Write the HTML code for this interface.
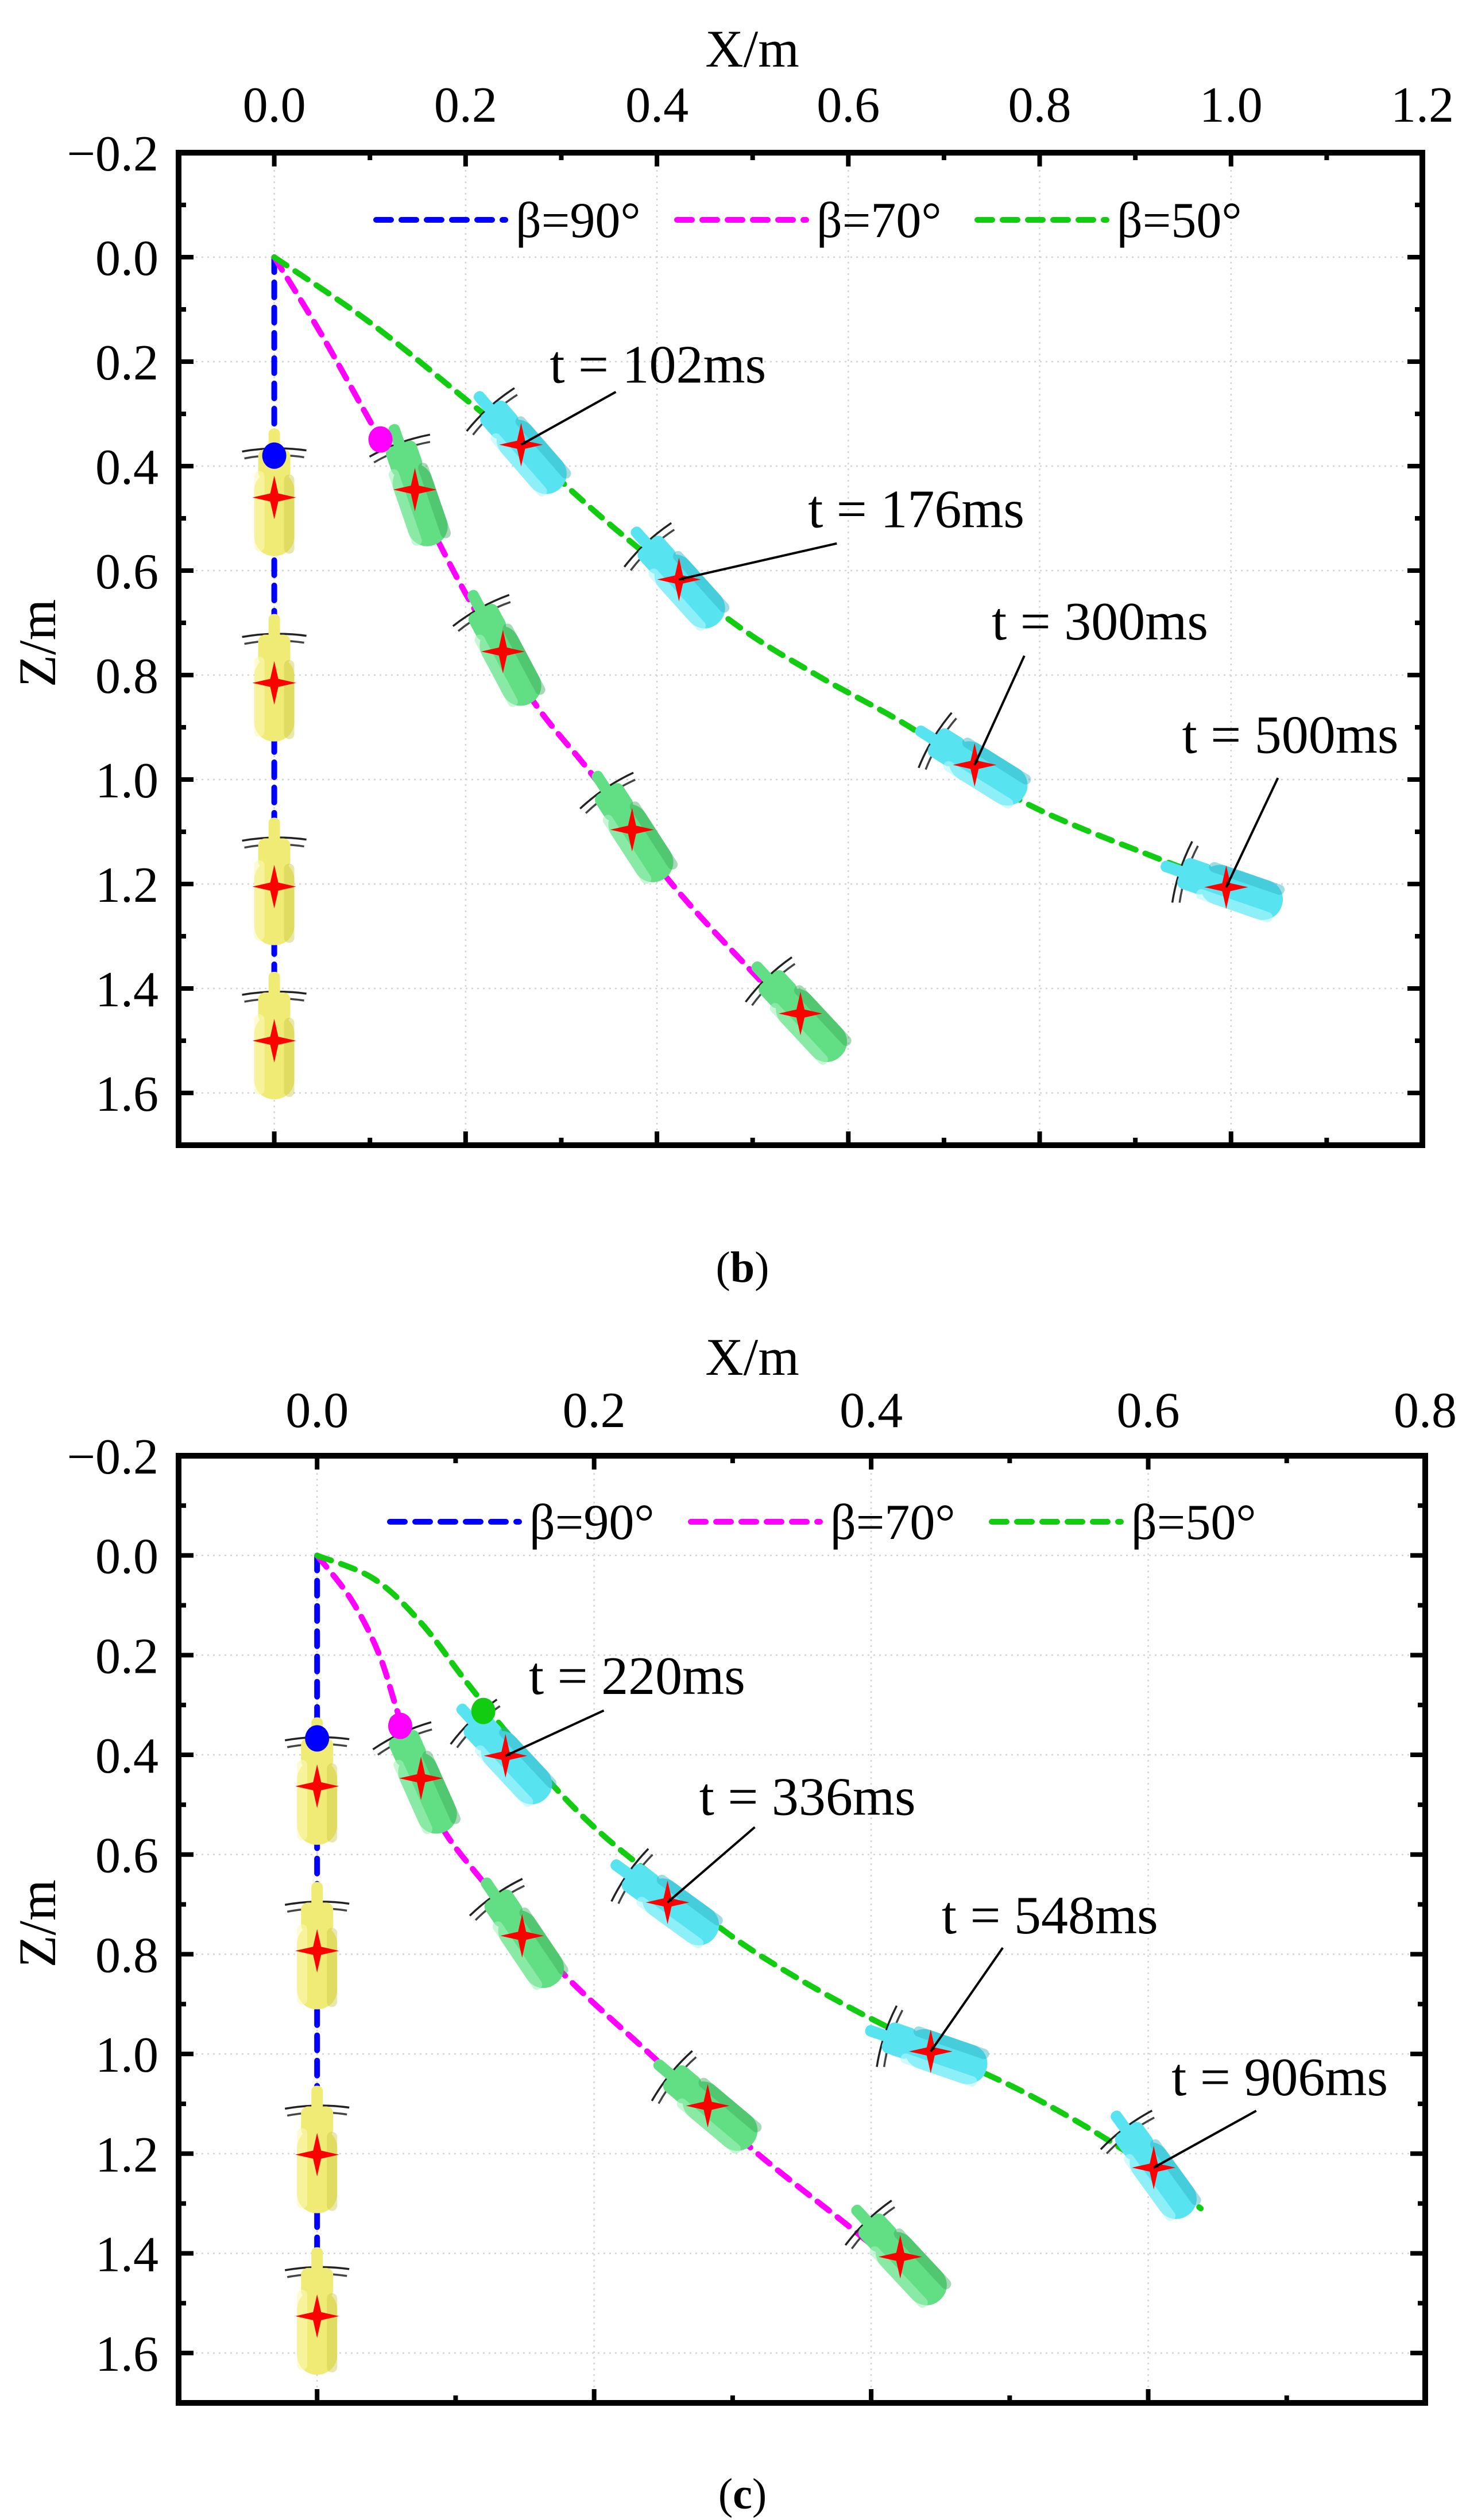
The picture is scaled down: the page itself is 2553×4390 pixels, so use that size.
<!DOCTYPE html>
<html>
<head>
<meta charset="utf-8">
<style>
  html, body { margin:0; padding:0; background:#fff; }
  svg { display:block; }
  text { font-family: "Liberation Serif", serif; fill:#000; }
</style>
</head>
<body>
<svg id="fig" xmlns="http://www.w3.org/2000/svg" width="2553" height="4390" viewBox="0 0 2553 4390">
  <rect x="0" y="0" width="2553" height="4390" fill="#fff"/>
  <defs>
    <marker id="arrowHead" markerWidth="10" markerHeight="8" refX="9" refY="4" orient="auto" markerUnits="userSpaceOnUse" viewBox="0 0 10 8">
      <path d="M0,0 L10,4 L0,8 L3,4 Z" fill="#000"/>
    </marker>
  </defs>
</svg>
<script>
// ---------------- Panel (b) data ----------------
const bXTicks = [0.0, 0.2, 0.4, 0.6, 0.8, 1.0, 1.2];
const bXTickLabels = ["0.0", "0.2", "0.4", "0.6", "0.8", "1.0", "1.2"];
const bZTicks = [-0.2, 0.0, 0.2, 0.4, 0.6, 0.8, 1.0, 1.2, 1.4, 1.6];
const bZTickLabels = ["\u22120.2", "0.0", "0.2", "0.4", "0.6", "0.8", "1.0", "1.2", "1.4", "1.6"];
const b90X = [0, 0];
const b90Z = [0, 1.6];
const b70X = [0, 0.05, 0.111, 0.142, 0.205, 0.273, 0.335, 0.413, 0.504, 0.557];
const b70Z = [0, 0.15, 0.349, 0.44, 0.66, 0.856, 0.997, 1.194, 1.377, 1.476];
const b50X = [0, 0.1, 0.2, 0.258, 0.355, 0.48, 0.567, 0.664, 0.78, 0.925, 1.05];
const b50Z = [0, 0.125, 0.272, 0.36, 0.518, 0.70, 0.80, 0.899, 1.04, 1.152, 1.236];
const bDotX = [0, 0.111];
const bDotZ = [0.38, 0.349];
const bDotColor = ["#0000ff", "#ff00ff"];
const bYellowZ = [0.46, 0.815, 1.205, 1.5];
const bGreenX = [0.147, 0.239, 0.374, 0.55];
const bGreenZ = [0.445, 0.755, 1.096, 1.448];
const bGreenTilt = [19, 28, 33, 43];
const bCyanX = [0.258, 0.423, 0.732, 0.995];
const bCyanZ = [0.359, 0.617, 0.972, 1.206];
const bCyanTilt = [41, 42, 58, 71];
const bLabels = ["t = 102ms", "t = 176ms", "t = 300ms", "t = 500ms"];
const bLabelX = [0.401, 0.671, 0.863, 1.062];
const bLabelZ = [0.24, 0.517, 0.732, 0.949];
const bArrowFromX = [0.357, 0.588, 0.784, 1.049];
const bArrowFromZ = [0.258, 0.548, 0.763, 0.997];

// ---------------- Panel (c) data ----------------
const cXTicks = [0.0, 0.2, 0.4, 0.6, 0.8];
const cXTickLabels = ["0.0", "0.2", "0.4", "0.6", "0.8"];
const cZTicks = [-0.2, 0.0, 0.2, 0.4, 0.6, 0.8, 1.0, 1.2, 1.4, 1.6];
const cZTickLabels = ["\u22120.2", "0.0", "0.2", "0.4", "0.6", "0.8", "1.0", "1.2", "1.4", "1.6"];
const c90X = [0, 0];
const c90Z = [0, 1.55];
const c70X = [0, 0.025, 0.045, 0.06, 0.085, 0.12, 0.177, 0.245, 0.313, 0.38, 0.407];
const c70Z = [0, 0.09, 0.2, 0.33, 0.52, 0.655, 0.837, 1.012, 1.188, 1.337, 1.398];
const c50X = [0, 0.041, 0.075, 0.109, 0.15, 0.2, 0.26, 0.313, 0.38, 0.448, 0.516, 0.584, 0.638];
const c50Z = [0, 0.047, 0.135, 0.258, 0.398, 0.545, 0.68, 0.79, 0.9, 0.995, 1.085, 1.196, 1.31];
const cDotX = [0, 0.06, 0.12];
const cDotZ = [0.367, 0.342, 0.312];
const cDotColor = ["#0000ff", "#ff00ff", "#11cc11"];
const cYellowZ = [0.463, 0.793, 1.202, 1.526];
const cGreenX = [0.075, 0.148, 0.282, 0.421];
const cGreenZ = [0.447, 0.763, 1.104, 1.407];
const cGreenTilt = [24, 34, 50, 43];
const cCyanX = [0.136, 0.253, 0.443, 0.604];
const cCyanZ = [0.402, 0.696, 0.995, 1.228];
const cCyanTilt = [43, 54, 71, 36];
const cLabels = ["t = 220ms", "t = 336ms", "t = 548ms", "t = 906ms"];
const cLabelX = [0.231, 0.354, 0.529, 0.695];
const cLabelZ = [0.278, 0.52, 0.758, 1.083];
const cArrowFromX = [0.207, 0.316, 0.495, 0.678];
const cArrowFromZ = [0.311, 0.545, 0.787, 1.114];

const legendNames = ["\u03b2=90\u00b0", "\u03b2=70\u00b0", "\u03b2=50\u00b0"];
const legendColors = ["#0000ff", "#ff00ff", "#11cc11"];

const NS = "http://www.w3.org/2000/svg";
const svg = document.getElementById("fig");
function mk(tag, attrs, parent) {
  const e = document.createElementNS(NS, tag);
  for (const k in attrs) e.setAttribute(k, attrs[k]);
  (parent || svg).appendChild(e);
  return e;
}

function smoothPath(pts) {
  if (pts.length < 3) return pts.map((p, i) => (i ? "L" : "M") + p[0].toFixed(1) + "," + p[1].toFixed(1)).join(" ");
  let d = "M" + pts[0][0].toFixed(1) + "," + pts[0][1].toFixed(1);
  for (let i = 0; i < pts.length - 1; i++) {
    const p0 = pts[Math.max(0, i - 1)], p1 = pts[i], p2 = pts[i + 1], p3 = pts[Math.min(pts.length - 1, i + 2)];
    const c1 = [p1[0] + (p2[0] - p0[0]) / 6, p1[1] + (p2[1] - p0[1]) / 6];
    const c2 = [p2[0] - (p3[0] - p1[0]) / 6, p2[1] - (p3[1] - p1[1]) / 6];
    d += " C" + c1[0].toFixed(1) + "," + c1[1].toFixed(1) + " " + c2[0].toFixed(1) + "," + c2[1].toFixed(1) + " " + p2[0].toFixed(1) + "," + p2[1].toFixed(1);
  }
  return d;
}

function drawBody(g, cx, cy, tilt, kind) {
  const fills = { yellow: ["#fcf9b4", "#efeb74", "#cfc94c"], green: ["#a4f2ba", "#62de84", "#3faa5e"], cyan: ["#b0f6fc", "#58e3f1", "#2fb2c4"] };
  const f = fills[kind];
  const grp = mk("g", { transform: "translate(" + cx + "," + cy + ") rotate(" + (-tilt) + ")" }, g);
  
  
  mk("path", { d: "M-56,-80 Q0,-90 56,-82", fill: "none", stroke: "#222", "stroke-width": 3.5 }, grp);
  mk("path", { d: "M-52,-68 Q0,-78 52,-70", fill: "none", stroke: "#444", "stroke-width": 3.5 }, grp);
  mk("rect", { x: -10, y: -120, width: 20, height: 44, rx: 9, fill: f[1] }, grp);
  mk("rect", { x: -28, y: -84, width: 56, height: 52, rx: 12, fill: f[1] }, grp);
  mk("rect", { x: -35, y: -46, width: 70, height: 148, rx: 34, fill: f[1] }, grp);
  mk("rect", { x: -35, y: -46, width: 18, height: 140, rx: 9, fill: f[0], opacity: 0.6 }, grp);
  mk("rect", { x: 17, y: -40, width: 18, height: 138, rx: 9, fill: f[2], opacity: 0.45 }, grp);
}

function drawStar(g, cx, cy) {
  const R = 38, r = 7;
  const p = [[0, -R], [r, -r], [R, 0], [r, r], [0, R], [-r, r], [-R, 0], [-r, -r]];
  const s = mk("polygon", { points: p.map(q => (cx + q[0]) + "," + (cy + q[1])).join(" "), fill: "#ff0000" }, g);
  
  
}

function drawPanel(P) {
  const g = mk("g", {});
  
  
  const sx = v => P.L + (v - P.xMin) / (P.xMax - P.xMin) * (P.R - P.L);
  const sz = v => P.T + (v - P.zMin) / (P.zMax - P.zMin) * (P.B - P.T);

  const grid = mk("g", {}, g);
  
  
  P.xTicks.forEach(v => mk("line", { x1: sx(v), x2: sx(v), y1: P.T, y2: P.B, stroke: "#d4d4d4", "stroke-width": 2.5, "stroke-dasharray": "3 7" }, grid));
  P.zTicks.forEach(v => mk("line", { x1: P.L, x2: P.R, y1: sz(v), y2: sz(v), stroke: "#d4d4d4", "stroke-width": 2.5, "stroke-dasharray": "3 7" }, grid));

  const series = [[P.l90x, P.l90z, "#0000ff", "beta-90-line"], [P.l70x, P.l70z, "#ff00ff", "beta-70-line"], [P.l50x, P.l50z, "#11cc11", "beta-50-line"]];
  series.forEach(s => {
    const pts = s[0].map((x, i) => [sx(x), sz(s[1][i])]);
    const pth = mk("path", { d: smoothPath(pts), fill: "none", stroke: s[2], "stroke-width": 10, "stroke-dasharray": "26 18", "stroke-linecap": "round", "stroke-linejoin": "round" }, g);
    
    
  });

  P.yz.forEach(z => drawBody(g, sx(0), sz(z), 0, "yellow"));
  P.gx.forEach((x, i) => drawBody(g, sx(x), sz(P.gz[i]), P.gt[i], "green"));
  P.cx.forEach((x, i) => drawBody(g, sx(x), sz(P.cz[i]), P.ct[i], "cyan"));
  P.yz.forEach(z => drawStar(g, sx(0), sz(z)));
  P.gx.forEach((x, i) => drawStar(g, sx(x), sz(P.gz[i])));
  P.cx.forEach((x, i) => drawStar(g, sx(x), sz(P.cz[i])));

  P.dx.forEach((x, i) => {
    const c = mk("ellipse", { cx: sx(x), cy: sz(P.dz[i]), rx: 21, ry: 23, fill: P.dc[i] }, g);
    
    
  });

  P.labels.forEach((t, i) => {
    const a = mk("line", { x1: sx(P.afx[i]), y1: sz(P.afz[i]), x2: sx(P.cx[i]), y2: sz(P.cz[i]), stroke: "#000", "stroke-width": 4, "marker-end": "url(#arrowHead)" }, g);
    
    
    const tx = mk("text", { x: sx(P.lx[i]), y: sz(P.lz[i]), "font-size": 94, "text-anchor": "middle" }, g);
    tx.textContent = t;
    
    
  });

  const lg = mk("g", {}, g);
  
  
  legendNames.forEach((n, i) => {
    const x0 = P.legX[i];
    const le = mk("g", {}, lg);
    
    
    mk("line", { x1: x0, x2: x0 + 225, y1: P.legY, y2: P.legY, stroke: legendColors[i], "stroke-width": 10, "stroke-dasharray": "26 18", "stroke-linecap": "round" }, le);
    const t = mk("text", { x: x0 + 243, y: P.legY + 30, "font-size": 88 }, le);
    t.textContent = n;
  });

  const fr = mk("rect", { x: P.L, y: P.T, width: P.R - P.L, height: P.B - P.T, fill: "none", stroke: "#000", "stroke-width": 10 }, g);
  
  

  const tk = mk("g", { stroke: "#000", "stroke-width": 8 }, g);
  
  
  for (let v = P.xMin; v <= P.xMax + 1e-9; v += 0.1) {
    const major = P.xTicks.some(t => Math.abs(t - v) < 1e-6);
    const len = major ? 24 : 13;
    mk("line", { x1: sx(v), x2: sx(v), y1: P.T, y2: P.T + len }, tk);
    mk("line", { x1: sx(v), x2: sx(v), y1: P.B, y2: P.B - len }, tk);
  }
  for (let v = P.zMin; v <= P.zMax + 1e-9; v += 0.1) {
    const major = P.zTicks.some(t => Math.abs(t - v) < 1e-6);
    const len = major ? 26 : 13;
    mk("line", { x1: P.L, x2: P.L + len, y1: sz(v), y2: sz(v) }, tk);
    mk("line", { x1: P.R, x2: P.R - len, y1: sz(v), y2: sz(v) }, tk);
  }

  P.xTicks.forEach((v, i) => {
    const t = mk("text", { x: sx(v), y: P.xLabY, "font-size": 88, "text-anchor": "middle" }, g);
    t.textContent = P.xLab[i];
    
    
  });
  P.zTicks.forEach((v, i) => {
    const t = mk("text", { x: 276, y: sz(v) + 31, "font-size": 88, "text-anchor": "end" }, g);
    t.textContent = P.zLab[i];
    
    
  });

  const xt = mk("text", { x: 1310, y: P.xTitleY, "font-size": 92, "text-anchor": "middle" }, g);
  xt.textContent = "X/m";
  
  
  const zc = (P.T + P.B) / 2 - 10;
  const zt = mk("text", { x: 0, y: 0, "font-size": 92, "text-anchor": "middle", transform: "translate(96," + zc + ") rotate(-90)" }, g);
  zt.textContent = "Z/m";
  
  

  const cap = mk("text", { x: 1293, y: P.capY, "font-size": 76, "text-anchor": "middle" }, g);
  
  
  const t1 = mk("tspan", {}, cap); t1.textContent = "(";
  const t2 = mk("tspan", { "font-weight": "bold" }, cap); t2.textContent = P.cap;
  const t3 = mk("tspan", {}, cap); t3.textContent = ")";
}

drawPanel({
  name: "panel-b", L: 311, R: 2477, T: 266, B: 1995, xMin: -0.1, xMax: 1.2, zMin: -0.2, zMax: 1.7,
  xTicks: bXTicks, xLab: bXTickLabels, zTicks: bZTicks, zLab: bZTickLabels,
  l90x: b90X, l90z: b90Z, l70x: b70X, l70z: b70Z, l50x: b50X, l50z: b50Z,
  dx: bDotX, dz: bDotZ, dc: bDotColor,
  yz: bYellowZ, gx: bGreenX, gz: bGreenZ, gt: bGreenTilt, cx: bCyanX, cz: bCyanZ, ct: bCyanTilt,
  labels: bLabels, lx: bLabelX, lz: bLabelZ, afx: bArrowFromX, afz: bArrowFromZ,
  legX: [655, 1179, 1702], legY: 383, xLabY: 212, xTitleY: 116, capY: 2233, cap: "b"
});
drawPanel({
  name: "panel-c", L: 311, R: 2482, T: 2536, B: 4186, xMin: -0.1, xMax: 0.8, zMin: -0.2, zMax: 1.7,
  xTicks: cXTicks, xLab: cXTickLabels, zTicks: cZTicks, zLab: cZTickLabels,
  l90x: c90X, l90z: c90Z, l70x: c70X, l70z: c70Z, l50x: c50X, l50z: c50Z,
  dx: cDotX, dz: cDotZ, dc: cDotColor,
  yz: cYellowZ, gx: cGreenX, gz: cGreenZ, gt: cGreenTilt, cx: cCyanX, cz: cCyanZ, ct: cCyanTilt,
  labels: cLabels, lx: cLabelX, lz: cLabelZ, afx: cArrowFromX, afz: cArrowFromZ,
  legX: [679, 1203, 1727], legY: 2651, xLabY: 2486, xTitleY: 2395, capY: 4370, cap: "c"
});
</script>
</body>
</html>
